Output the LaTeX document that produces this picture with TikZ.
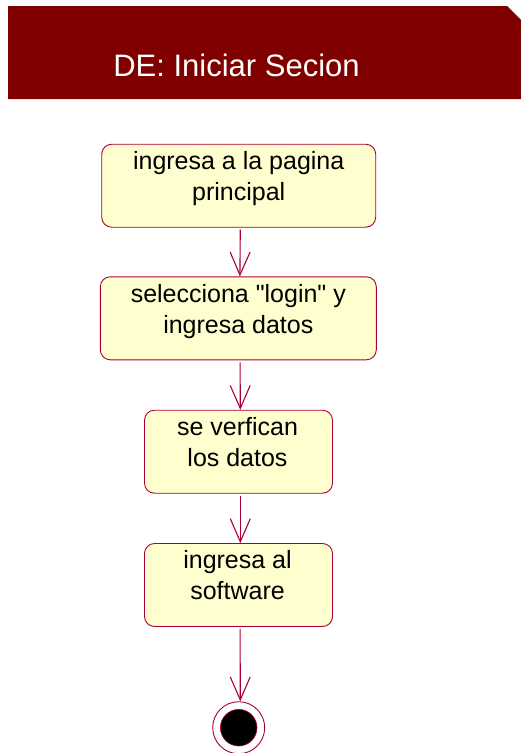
\documentclass[tikz,border=0pt]{standalone}
\usepackage{fontspec}
\setmainfont{Liberation Sans}[Ligatures=TeXOff]
\usetikzlibrary{arrows.meta}
\definecolor{hdr}{HTML}{800000}
\definecolor{actfill}{HTML}{FEFECE}
\definecolor{actline}{HTML}{A80036}
\tikzset{
  actbox/.style={draw=actline, fill=actfill, line width=0.9pt, rounded corners=10pt, inner sep=0pt},
  acttext/.style={inner sep=0pt, align=center, font=\fontsize{25}{31}\selectfont},
  flow/.style={draw=actline, line width=1.1pt, -{Straight Barb[length=23pt, width=20pt, line width=1.1pt]}},
}
\newcommand{\tline}[1]{\strut#1}
\begin{document}
\begin{tikzpicture}[x=1pt, y=-1pt]
\useasboundingbox (0,0) rectangle (521,753);
% header
\fill[hdr] (8,6) -- (507,6) -- (521,20) -- (521,99) -- (8,99) -- cycle;
\node[anchor=base, text=white, inner sep=0pt, font=\fontsize{31}{37}\selectfont] (title) at (236.5,76) {DE: Iniciar Secion};
% activity boxes
\node[actbox, minimum width=274pt, minimum height=83pt] (n1) at (238.7,185.7) {};
\node[actbox, minimum width=276pt, minimum height=83pt] (n2) at (238.3,318.3) {};
\node[actbox, minimum width=188pt, minimum height=83pt] (n3) at (238.5,451.7) {};
\node[actbox, minimum width=188pt, minimum height=83pt] (n4) at (238.5,585.0) {};
\node[acttext] (t1) at (238.7,178.8) {\tline{ingresa a la pagina}\\\tline{principal}};
\node[acttext] (t2) at (238.3,311.5) {\tline{selecciona "login" y}\\\tline{ingresa datos}};
\node[acttext] (t3) at (237.5,444.8) {\tline{se verfican}\\\tline{los datos}};
\node[acttext] (t4) at (237.5,578.1) {\tline{ingresa al}\\\tline{software}};
% final node
\node[circle, draw=actline, fill=white, line width=0.9pt, minimum size=52pt, inner sep=0pt] (fin) at (238.7,727.7) {};
\node[circle, draw=actline, fill=black, line width=0.6pt, minimum size=36.6pt, inner sep=0pt] (finin) at (fin.center) {};
% connectors
\draw[flow, shorten <=2pt] ([xshift=1.6pt]n1.south) -- ([xshift=1.6pt]n2.north);
\draw[flow, shorten <=2pt] ([xshift=1.8pt]n2.south) -- ([xshift=1.8pt]n3.north);
\draw[flow, shorten <=2pt] ([xshift=1.8pt]n3.south) -- ([xshift=1.8pt]n4.north);
\draw[flow, shorten <=2pt] ([xshift=1.6pt]n4.south) -- ([xshift=1.6pt]fin.north);
\end{tikzpicture}
\end{document}
